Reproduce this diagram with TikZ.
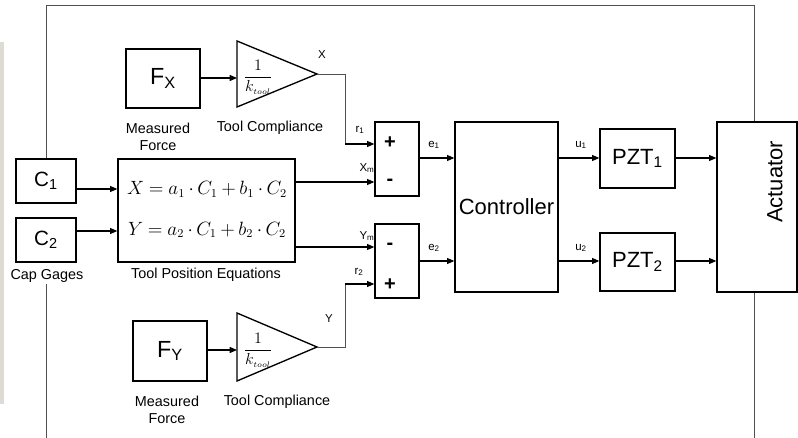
\documentclass[tikz,border=0pt]{standalone}
\usepackage{fontspec}
\setmainfont{Liberation Sans}
\usetikzlibrary{arrows.meta}
\definecolor{stripgray}{HTML}{DEDBD4}
\definecolor{framegray}{HTML}{505050}
\newcommand\eqspacing{\medmuskip=3.3mu\relax\thickmuskip=4.5mu\relax}
\begin{document}
\begin{tikzpicture}[x=0.75pt,y=-0.75pt,
  blk/.style={draw=black, line width=1pt, inner sep=0pt},
  arr/.style={line width=0.9pt, -{Triangle[length=5.5pt,width=4.5pt]}},
  thinln/.style={draw=framegray, line width=0.6pt},
  capt/.style={font=\fontsize{10.8}{13}\selectfont, align=center, inner sep=0pt},
  sig/.style={font=\fontsize{8.6}{10}\selectfont, inner sep=0pt},
  sgn/.style={font=\fontsize{15}{16}\selectfont\bfseries, inner sep=0pt},
  big/.style={font=\fontsize{16.5}{18}\selectfont},
  eqn/.style={font=\fontsize{13.5}{16}\selectfont, inner sep=0pt, anchor=base},
  frac/.style={font=\fontsize{11.5}{13}\selectfont, inner sep=0pt}
]
\useasboundingbox (0,0) rectangle (798,438);
\fill[stripgray] (0,42) rectangle (4,404);

% blocks
\node[blk, big, font=\fontsize{17.5}{19}\selectfont, minimum width=55.5pt, minimum height=44.25pt] (FX) at (163,78.5) {F\textsubscript{X}};
\node[blk, big, font=\fontsize{17.5}{19}\selectfont, minimum width=55.5pt, minimum height=45pt] (FY) at (170,351) {F\textsubscript{Y}};
\node[blk, big, font=\fontsize{15.5}{17}\selectfont, minimum width=45pt, minimum height=33pt] (C1) at (46,181) {C\textsubscript{1}};
\node[blk, big, font=\fontsize{15.5}{17}\selectfont, minimum width=45pt, minimum height=33pt] (C2) at (46,240) {C\textsubscript{2}};
\node[blk, minimum width=132.75pt, minimum height=77.25pt] (Eq) at (206.5,210.5) {};
\node[blk, minimum width=33pt, minimum height=55.5pt] (S1) at (397,159) {};
\node[blk, minimum width=33pt, minimum height=55.5pt] (S2) at (397,261) {};
\node[blk, big, minimum width=77.25pt, minimum height=127.5pt] (Ctrl) at (506.5,207) {Controller};
\node[blk, big, minimum width=56.25pt, minimum height=44.25pt] (P1) at (637.5,158.5) {PZT\textsubscript{1}};
\node[blk, big, minimum width=56.25pt, minimum height=43.5pt] (P2) at (637.5,262) {PZT\textsubscript{2}};
\node[blk, minimum width=60pt, minimum height=127.5pt] (Act) at (757,207) {};
\node[big, rotate=90, inner sep=0pt] (ActL) at (775,182) {Actuator};

% gain triangles
\coordinate (T1a) at (317,74);
\coordinate (T1in) at (237,78);
\draw[blk] (237,41) -- (T1a) -- (237,107) -- cycle;
\node[frac] (G1) at (258,77) {$\displaystyle\frac{1}{k_{\scriptscriptstyle tool}}$};
\coordinate (T2a) at (317,347);
\coordinate (T2in) at (237,350);
\draw[blk] (237,313) -- (T2a) -- (237,381) -- cycle;
\node[frac] (G2) at (258,350) {$\displaystyle\frac{1}{k_{\scriptscriptstyle tool}}$};

% equations
\node[eqn] (E1) at (207,195) {\eqspacing$X = a_1\cdot C_1 + b_1\cdot C_2$};
\node[eqn] (E2) at (207,235) {\eqspacing$Y = a_2\cdot C_1 + b_2\cdot C_2$};

% signs
\node[sgn] (p1) at (390,143) {+};
\node[sgn] (m1) at (390,182) {-};
\node[sgn] (m2) at (390,246) {-};
\node[sgn] (p2) at (390,285) {+};

% captions
\node[capt] (mf1) at (158,137) {Measured\\Force};
\node[capt] (tc1) at (270,128) {Tool Compliance};
\node[capt] (cg) at (47,276) {Cap Gages};
\node[capt] (tpe) at (206,275) {Tool Position Equations};
\node[capt] (mf2) at (167,410) {Measured\\Force};
\node[capt] (tc2) at (277,402) {Tool Compliance};

% signal labels
\node[sig] (lX) at (322,55) {X};
\node[sig] (lY) at (329,319) {Y};
\node[sig] (lr1) at (360,130) {r\textsubscript{1}};
\node[sig] (lXm) at (367,168) {X\textsubscript{m}};
\node[sig] (lYm) at (367,236) {Y\textsubscript{m}};
\node[sig] (lr2) at (359,272) {r\textsubscript{2}};
\node[sig] (le1) at (434,145) {e\textsubscript{1}};
\node[sig] (le2) at (434,248) {e\textsubscript{2}};
\node[sig] (lu1) at (581,145) {u\textsubscript{1}};
\node[sig] (lu2) at (581,248) {u\textsubscript{2}};

% routing coordinates
\coordinate (k1) at (345,144);
\coordinate (k2) at (345,284);
\coordinate (ftl) at (46,5);
\coordinate (ftr) at (754,5);
\coordinate (fcl) at (46,284);
\coordinate (fbl) at (46,438);
\coordinate (fbr) at (754,438);

% connectors
\draw[arr] (FX.east |- T1in) -- (T1in);
\draw[arr] (FY.east |- T2in) -- (T2in);
\draw[thinln] (T1a) -- (T1a -| k1) -- (k1);
\draw[arr] (k1) -- (S1.west |- k1);
\draw[thinln] (T2a) -- (T2a -| k2) -- (k2);
\draw[arr] (k2) -- (S2.west |- k2);
\draw[arr] (C1.east |- 0,189) -- (Eq.west |- 0,189);
\draw[arr] (C2.east |- 0,231) -- (Eq.west |- 0,231);
\draw[arr] (Eq.east |- 0,182) -- (S1.west |- 0,182);
\draw[arr] (Eq.east |- 0,247) -- (S2.west |- 0,247);
\draw[arr] (S1.east |- 0,158) -- (Ctrl.west |- 0,158);
\draw[arr] (S2.east |- 0,261) -- (Ctrl.west |- 0,261);
\draw[arr] (Ctrl.east |- 0,158) -- (P1.west |- 0,158);
\draw[arr] (Ctrl.east |- 0,261) -- (P2.west |- 0,261);
\draw[arr] (P1.east |- 0,158) -- (Act.west |- 0,158);
\draw[arr] (P2.east |- 0,261) -- (Act.west |- 0,261);

% outer frame
\draw[thinln] (C1.north) -- (ftl) -- (ftr) -- (Act.north -| ftr);
\draw[thinln] (Act.south -| fbr) -- (fbr);
\draw[thinln] (fcl) -- (fbl);
\end{tikzpicture}
\end{document}
